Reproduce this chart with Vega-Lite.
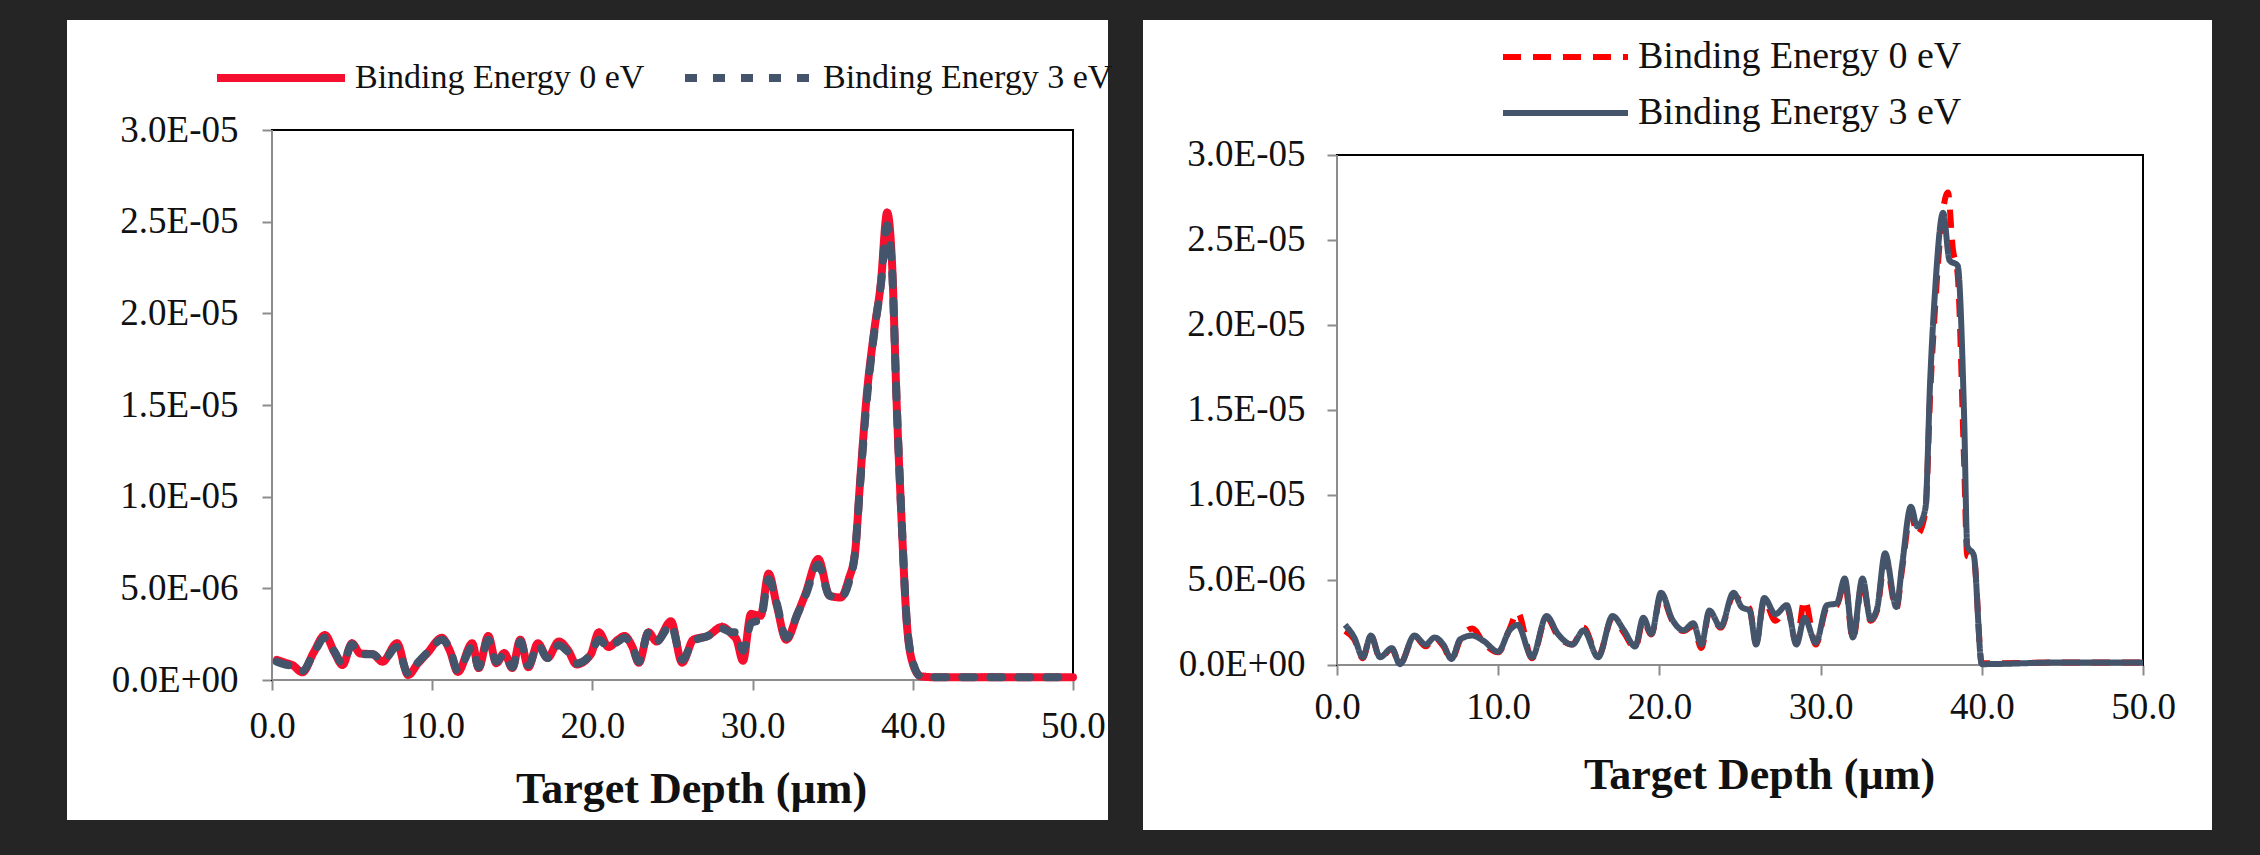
{
  "$schema": "https://vega.github.io/schema/vega-lite/v6.json",
  "background": "#252525",
  "padding": {"left": 67, "top": 20, "right": 48, "bottom": 25},
  "autosize": {"type": "pad"},
  "bounds": "flush",
  "spacing": 35,
  "config": {"font": "Liberation Serif", "view": {"stroke": null}},
  "datasets": {
    "left": [
      {"s":"Binding Energy 0 eV","x":0.3,"y":1.1e-6},{"s":"Binding Energy 0 eV","x":0.8,"y":0.95e-6},{"s":"Binding Energy 0 eV","x":1.3,"y":0.8e-6},{"s":"Binding Energy 0 eV","x":1.9,"y":0.42e-6},{"s":"Binding Energy 0 eV","x":2.6,"y":1.5e-6},{"s":"Binding Energy 0 eV","x":3.3,"y":2.45e-6},{"s":"Binding Energy 0 eV","x":3.9,"y":1.5e-6},{"s":"Binding Energy 0 eV","x":4.4,"y":0.82e-6},{"s":"Binding Energy 0 eV","x":5.0,"y":2.0e-6},{"s":"Binding Energy 0 eV","x":5.5,"y":1.45e-6},{"s":"Binding Energy 0 eV","x":6.3,"y":1.4e-6},{"s":"Binding Energy 0 eV","x":6.9,"y":1.0e-6},{"s":"Binding Energy 0 eV","x":7.8,"y":2.0e-6},{"s":"Binding Energy 0 eV","x":8.5,"y":0.27e-6},{"s":"Binding Energy 0 eV","x":9.1,"y":0.9e-6},{"s":"Binding Energy 0 eV","x":9.7,"y":1.47e-6},{"s":"Binding Energy 0 eV","x":10.6,"y":2.3e-6},{"s":"Binding Energy 0 eV","x":11.1,"y":1.6e-6},{"s":"Binding Energy 0 eV","x":11.6,"y":0.44e-6},{"s":"Binding Energy 0 eV","x":12.5,"y":2.0e-6},{"s":"Binding Energy 0 eV","x":12.9,"y":0.65e-6},{"s":"Binding Energy 0 eV","x":13.5,"y":2.4e-6},{"s":"Binding Energy 0 eV","x":14.0,"y":0.92e-6},{"s":"Binding Energy 0 eV","x":14.5,"y":1.47e-6},{"s":"Binding Energy 0 eV","x":15.0,"y":0.65e-6},{"s":"Binding Energy 0 eV","x":15.5,"y":2.2e-6},{"s":"Binding Energy 0 eV","x":16.0,"y":0.7e-6},{"s":"Binding Energy 0 eV","x":16.6,"y":2.0e-6},{"s":"Binding Energy 0 eV","x":17.2,"y":1.2e-6},{"s":"Binding Energy 0 eV","x":17.9,"y":2.1e-6},{"s":"Binding Energy 0 eV","x":18.5,"y":1.6e-6},{"s":"Binding Energy 0 eV","x":19.0,"y":0.85e-6},{"s":"Binding Energy 0 eV","x":19.9,"y":1.4e-6},{"s":"Binding Energy 0 eV","x":20.4,"y":2.6e-6},{"s":"Binding Energy 0 eV","x":21.0,"y":1.8e-6},{"s":"Binding Energy 0 eV","x":21.6,"y":2.2e-6},{"s":"Binding Energy 0 eV","x":22.0,"y":2.4e-6},{"s":"Binding Energy 0 eV","x":22.5,"y":1.8e-6},{"s":"Binding Energy 0 eV","x":22.9,"y":0.94e-6},{"s":"Binding Energy 0 eV","x":23.5,"y":2.6e-6},{"s":"Binding Energy 0 eV","x":24.0,"y":2.1e-6},{"s":"Binding Energy 0 eV","x":24.9,"y":3.2e-6},{"s":"Binding Energy 0 eV","x":25.6,"y":0.95e-6},{"s":"Binding Energy 0 eV","x":26.3,"y":2.2e-6},{"s":"Binding Energy 0 eV","x":27.2,"y":2.4e-6},{"s":"Binding Energy 0 eV","x":28.1,"y":2.9e-6},{"s":"Binding Energy 0 eV","x":28.7,"y":2.5e-6},{"s":"Binding Energy 0 eV","x":29.0,"y":2.2e-6},{"s":"Binding Energy 0 eV","x":29.4,"y":1.05e-6},{"s":"Binding Energy 0 eV","x":29.9,"y":3.6e-6},{"s":"Binding Energy 0 eV","x":30.5,"y":3.5e-6},{"s":"Binding Energy 0 eV","x":31.0,"y":5.8e-6},{"s":"Binding Energy 0 eV","x":31.5,"y":4.1e-6},{"s":"Binding Energy 0 eV","x":32.1,"y":2.2e-6},{"s":"Binding Energy 0 eV","x":32.8,"y":3.6e-6},{"s":"Binding Energy 0 eV","x":33.3,"y":4.7e-6},{"s":"Binding Energy 0 eV","x":34.1,"y":6.6e-6},{"s":"Binding Energy 0 eV","x":34.8,"y":4.6e-6},{"s":"Binding Energy 0 eV","x":35.5,"y":4.5e-6},{"s":"Binding Energy 0 eV","x":36.0,"y":5.5e-6},{"s":"Binding Energy 0 eV","x":36.4,"y":7.0e-6},{"s":"Binding Energy 0 eV","x":36.7,"y":10.7e-6},{"s":"Binding Energy 0 eV","x":37.1,"y":15.3e-6},{"s":"Binding Energy 0 eV","x":37.6,"y":19.1e-6},{"s":"Binding Energy 0 eV","x":38.0,"y":21.6e-6},{"s":"Binding Energy 0 eV","x":38.4,"y":25.5e-6},{"s":"Binding Energy 0 eV","x":38.7,"y":22.8e-6},{"s":"Binding Energy 0 eV","x":39.0,"y":14.9e-6},{"s":"Binding Energy 0 eV","x":39.3,"y":8.7e-6},{"s":"Binding Energy 0 eV","x":39.6,"y":3.4e-6},{"s":"Binding Energy 0 eV","x":40.0,"y":0.9e-6},{"s":"Binding Energy 0 eV","x":40.5,"y":0.2e-6},{"s":"Binding Energy 0 eV","x":41.4,"y":0.15e-6},{"s":"Binding Energy 0 eV","x":45.0,"y":0.15e-6},{"s":"Binding Energy 0 eV","x":50.0,"y":0.15e-6},
      {"s":"Binding Energy 3 eV","x":0.3,"y":1.0e-6},{"s":"Binding Energy 3 eV","x":0.8,"y":0.85e-6},{"s":"Binding Energy 3 eV","x":1.3,"y":0.75e-6},{"s":"Binding Energy 3 eV","x":1.9,"y":0.5e-6},{"s":"Binding Energy 3 eV","x":2.6,"y":1.45e-6},{"s":"Binding Energy 3 eV","x":3.3,"y":2.3e-6},{"s":"Binding Energy 3 eV","x":3.9,"y":1.55e-6},{"s":"Binding Energy 3 eV","x":4.4,"y":0.9e-6},{"s":"Binding Energy 3 eV","x":5.0,"y":1.95e-6},{"s":"Binding Energy 3 eV","x":5.5,"y":1.4e-6},{"s":"Binding Energy 3 eV","x":6.3,"y":1.4e-6},{"s":"Binding Energy 3 eV","x":6.9,"y":1.05e-6},{"s":"Binding Energy 3 eV","x":7.8,"y":1.8e-6},{"s":"Binding Energy 3 eV","x":8.5,"y":0.35e-6},{"s":"Binding Energy 3 eV","x":9.1,"y":0.95e-6},{"s":"Binding Energy 3 eV","x":9.7,"y":1.5e-6},{"s":"Binding Energy 3 eV","x":10.6,"y":2.2e-6},{"s":"Binding Energy 3 eV","x":11.1,"y":1.7e-6},{"s":"Binding Energy 3 eV","x":11.6,"y":0.5e-6},{"s":"Binding Energy 3 eV","x":12.5,"y":1.8e-6},{"s":"Binding Energy 3 eV","x":12.9,"y":0.7e-6},{"s":"Binding Energy 3 eV","x":13.5,"y":2.2e-6},{"s":"Binding Energy 3 eV","x":14.0,"y":1.0e-6},{"s":"Binding Energy 3 eV","x":14.5,"y":1.4e-6},{"s":"Binding Energy 3 eV","x":15.0,"y":0.7e-6},{"s":"Binding Energy 3 eV","x":15.5,"y":2.1e-6},{"s":"Binding Energy 3 eV","x":16.0,"y":0.8e-6},{"s":"Binding Energy 3 eV","x":16.6,"y":1.9e-6},{"s":"Binding Energy 3 eV","x":17.2,"y":1.2e-6},{"s":"Binding Energy 3 eV","x":17.9,"y":1.9e-6},{"s":"Binding Energy 3 eV","x":18.5,"y":1.5e-6},{"s":"Binding Energy 3 eV","x":19.0,"y":0.9e-6},{"s":"Binding Energy 3 eV","x":19.9,"y":1.4e-6},{"s":"Binding Energy 3 eV","x":20.4,"y":2.2e-6},{"s":"Binding Energy 3 eV","x":21.0,"y":1.8e-6},{"s":"Binding Energy 3 eV","x":21.6,"y":2.1e-6},{"s":"Binding Energy 3 eV","x":22.0,"y":2.3e-6},{"s":"Binding Energy 3 eV","x":22.5,"y":1.8e-6},{"s":"Binding Energy 3 eV","x":22.9,"y":1.0e-6},{"s":"Binding Energy 3 eV","x":23.5,"y":2.6e-6},{"s":"Binding Energy 3 eV","x":24.0,"y":2.1e-6},{"s":"Binding Energy 3 eV","x":24.9,"y":3.0e-6},{"s":"Binding Energy 3 eV","x":25.6,"y":1.1e-6},{"s":"Binding Energy 3 eV","x":26.3,"y":2.1e-6},{"s":"Binding Energy 3 eV","x":27.2,"y":2.4e-6},{"s":"Binding Energy 3 eV","x":28.1,"y":2.8e-6},{"s":"Binding Energy 3 eV","x":28.7,"y":2.6e-6},{"s":"Binding Energy 3 eV","x":29.0,"y":2.6e-6},{"s":"Binding Energy 3 eV","x":29.4,"y":1.6e-6},{"s":"Binding Energy 3 eV","x":29.9,"y":3.1e-6},{"s":"Binding Energy 3 eV","x":30.5,"y":3.3e-6},{"s":"Binding Energy 3 eV","x":31.0,"y":5.5e-6},{"s":"Binding Energy 3 eV","x":31.5,"y":4.2e-6},{"s":"Binding Energy 3 eV","x":32.1,"y":2.3e-6},{"s":"Binding Energy 3 eV","x":32.8,"y":3.6e-6},{"s":"Binding Energy 3 eV","x":33.3,"y":4.6e-6},{"s":"Binding Energy 3 eV","x":34.1,"y":6.3e-6},{"s":"Binding Energy 3 eV","x":34.8,"y":4.6e-6},{"s":"Binding Energy 3 eV","x":35.5,"y":4.5e-6},{"s":"Binding Energy 3 eV","x":36.0,"y":5.3e-6},{"s":"Binding Energy 3 eV","x":36.4,"y":7.0e-6},{"s":"Binding Energy 3 eV","x":36.7,"y":10.5e-6},{"s":"Binding Energy 3 eV","x":37.1,"y":15.0e-6},{"s":"Binding Energy 3 eV","x":37.6,"y":19.0e-6},{"s":"Binding Energy 3 eV","x":38.0,"y":21.5e-6},{"s":"Binding Energy 3 eV","x":38.4,"y":24.8e-6},{"s":"Binding Energy 3 eV","x":38.7,"y":22.5e-6},{"s":"Binding Energy 3 eV","x":39.0,"y":15.0e-6},{"s":"Binding Energy 3 eV","x":39.3,"y":8.8e-6},{"s":"Binding Energy 3 eV","x":39.6,"y":3.5e-6},{"s":"Binding Energy 3 eV","x":40.0,"y":1.0e-6},{"s":"Binding Energy 3 eV","x":40.5,"y":0.2e-6},{"s":"Binding Energy 3 eV","x":41.4,"y":0.15e-6},{"s":"Binding Energy 3 eV","x":45.0,"y":0.15e-6},{"s":"Binding Energy 3 eV","x":50.0,"y":0.15e-6}
    ],
    "right": [
      {"s":"Binding Energy 0 eV","x":0.5,"y":2.0e-6},{"s":"Binding Energy 0 eV","x":1.07,"y":1.5e-6},{"s":"Binding Energy 0 eV","x":1.6,"y":0.4e-6},{"s":"Binding Energy 0 eV","x":2.1,"y":1.75e-6},{"s":"Binding Energy 0 eV","x":2.67,"y":0.4e-6},{"s":"Binding Energy 0 eV","x":3.4,"y":0.95e-6},{"s":"Binding Energy 0 eV","x":3.9,"y":0.05e-6},{"s":"Binding Energy 0 eV","x":4.8,"y":1.7e-6},{"s":"Binding Energy 0 eV","x":5.5,"y":1.1e-6},{"s":"Binding Energy 0 eV","x":6.05,"y":1.6e-6},{"s":"Binding Energy 0 eV","x":6.6,"y":1.1e-6},{"s":"Binding Energy 0 eV","x":7.1,"y":0.3e-6},{"s":"Binding Energy 0 eV","x":7.65,"y":1.5e-6},{"s":"Binding Energy 0 eV","x":8.4,"y":2.15e-6},{"s":"Binding Energy 0 eV","x":9.1,"y":1.3e-6},{"s":"Binding Energy 0 eV","x":10.0,"y":0.75e-6},{"s":"Binding Energy 0 eV","x":10.7,"y":2.1e-6},{"s":"Binding Energy 0 eV","x":11.2,"y":3.1e-6},{"s":"Binding Energy 0 eV","x":12.1,"y":0.4e-6},{"s":"Binding Energy 0 eV","x":13.0,"y":2.8e-6},{"s":"Binding Energy 0 eV","x":13.7,"y":1.7e-6},{"s":"Binding Energy 0 eV","x":14.6,"y":1.2e-6},{"s":"Binding Energy 0 eV","x":15.3,"y":2.2e-6},{"s":"Binding Energy 0 eV","x":16.2,"y":0.5e-6},{"s":"Binding Energy 0 eV","x":17.1,"y":2.8e-6},{"s":"Binding Energy 0 eV","x":17.8,"y":1.9e-6},{"s":"Binding Energy 0 eV","x":18.5,"y":1.0e-6},{"s":"Binding Energy 0 eV","x":19.0,"y":2.6e-6},{"s":"Binding Energy 0 eV","x":19.5,"y":1.8e-6},{"s":"Binding Energy 0 eV","x":20.1,"y":4.1e-6},{"s":"Binding Energy 0 eV","x":20.8,"y":2.6e-6},{"s":"Binding Energy 0 eV","x":21.5,"y":2.0e-6},{"s":"Binding Energy 0 eV","x":22.1,"y":2.3e-6},{"s":"Binding Energy 0 eV","x":22.6,"y":1.0e-6},{"s":"Binding Energy 0 eV","x":23.1,"y":3.1e-6},{"s":"Binding Energy 0 eV","x":23.8,"y":2.2e-6},{"s":"Binding Energy 0 eV","x":24.6,"y":4.1e-6},{"s":"Binding Energy 0 eV","x":25.1,"y":3.7e-6},{"s":"Binding Energy 0 eV","x":25.6,"y":3.3e-6},{"s":"Binding Energy 0 eV","x":26.0,"y":1.3e-6},{"s":"Binding Energy 0 eV","x":26.5,"y":3.8e-6},{"s":"Binding Energy 0 eV","x":27.2,"y":2.6e-6},{"s":"Binding Energy 0 eV","x":27.9,"y":3.4e-6},{"s":"Binding Energy 0 eV","x":28.5,"y":1.3e-6},{"s":"Binding Energy 0 eV","x":29.0,"y":3.83e-6},{"s":"Binding Energy 0 eV","x":29.7,"y":1.2e-6},{"s":"Binding Energy 0 eV","x":30.4,"y":3.4e-6},{"s":"Binding Energy 0 eV","x":31.0,"y":3.5e-6},{"s":"Binding Energy 0 eV","x":31.5,"y":4.9e-6},{"s":"Binding Energy 0 eV","x":32.0,"y":1.5e-6},{"s":"Binding Energy 0 eV","x":32.6,"y":4.9e-6},{"s":"Binding Energy 0 eV","x":33.1,"y":2.6e-6},{"s":"Binding Energy 0 eV","x":33.5,"y":3.2e-6},{"s":"Binding Energy 0 eV","x":34.0,"y":6.2e-6},{"s":"Binding Energy 0 eV","x":34.7,"y":3.3e-6},{"s":"Binding Energy 0 eV","x":35.05,"y":5.6e-6},{"s":"Binding Energy 0 eV","x":35.6,"y":8.9e-6},{"s":"Binding Energy 0 eV","x":36.0,"y":7.7e-6},{"s":"Binding Energy 0 eV","x":36.5,"y":9.0e-6},{"s":"Binding Energy 0 eV","x":36.8,"y":16.0e-6},{"s":"Binding Energy 0 eV","x":37.1,"y":21.0e-6},{"s":"Binding Energy 0 eV","x":37.5,"y":26.0e-6},{"s":"Binding Energy 0 eV","x":37.9,"y":27.8e-6},{"s":"Binding Energy 0 eV","x":38.2,"y":24.5e-6},{"s":"Binding Energy 0 eV","x":38.5,"y":23.0e-6},{"s":"Binding Energy 0 eV","x":38.9,"y":12.0e-6},{"s":"Binding Energy 0 eV","x":39.1,"y":6.4e-6},{"s":"Binding Energy 0 eV","x":39.5,"y":6.3e-6},{"s":"Binding Energy 0 eV","x":40.0,"y":0.1e-6},{"s":"Binding Energy 0 eV","x":45.0,"y":0.15e-6},{"s":"Binding Energy 0 eV","x":50.0,"y":0.15e-6},
      {"s":"Binding Energy 3 eV","x":0.5,"y":2.36e-6},{"s":"Binding Energy 3 eV","x":1.07,"y":1.62e-6},{"s":"Binding Energy 3 eV","x":1.6,"y":0.46e-6},{"s":"Binding Energy 3 eV","x":2.1,"y":1.73e-6},{"s":"Binding Energy 3 eV","x":2.67,"y":0.46e-6},{"s":"Binding Energy 3 eV","x":3.4,"y":0.99e-6},{"s":"Binding Energy 3 eV","x":3.9,"y":0.05e-6},{"s":"Binding Energy 3 eV","x":4.8,"y":1.73e-6},{"s":"Binding Energy 3 eV","x":5.5,"y":1.2e-6},{"s":"Binding Energy 3 eV","x":6.05,"y":1.62e-6},{"s":"Binding Energy 3 eV","x":6.6,"y":1.2e-6},{"s":"Binding Energy 3 eV","x":7.1,"y":0.36e-6},{"s":"Binding Energy 3 eV","x":7.65,"y":1.52e-6},{"s":"Binding Energy 3 eV","x":8.4,"y":1.73e-6},{"s":"Binding Energy 3 eV","x":9.1,"y":1.41e-6},{"s":"Binding Energy 3 eV","x":10.0,"y":0.78e-6},{"s":"Binding Energy 3 eV","x":10.7,"y":2.04e-6},{"s":"Binding Energy 3 eV","x":11.2,"y":2.36e-6},{"s":"Binding Energy 3 eV","x":12.1,"y":0.46e-6},{"s":"Binding Energy 3 eV","x":13.0,"y":2.88e-6},{"s":"Binding Energy 3 eV","x":13.7,"y":1.83e-6},{"s":"Binding Energy 3 eV","x":14.6,"y":1.2e-6},{"s":"Binding Energy 3 eV","x":15.3,"y":2.04e-6},{"s":"Binding Energy 3 eV","x":16.2,"y":0.46e-6},{"s":"Binding Energy 3 eV","x":17.1,"y":2.88e-6},{"s":"Binding Energy 3 eV","x":17.8,"y":2.04e-6},{"s":"Binding Energy 3 eV","x":18.5,"y":1.09e-6},{"s":"Binding Energy 3 eV","x":19.0,"y":2.78e-6},{"s":"Binding Energy 3 eV","x":19.5,"y":1.83e-6},{"s":"Binding Energy 3 eV","x":20.1,"y":4.25e-6},{"s":"Binding Energy 3 eV","x":20.8,"y":2.67e-6},{"s":"Binding Energy 3 eV","x":21.5,"y":2.04e-6},{"s":"Binding Energy 3 eV","x":22.1,"y":2.46e-6},{"s":"Binding Energy 3 eV","x":22.6,"y":1.2e-6},{"s":"Binding Energy 3 eV","x":23.1,"y":3.2e-6},{"s":"Binding Energy 3 eV","x":23.8,"y":2.25e-6},{"s":"Binding Energy 3 eV","x":24.6,"y":4.25e-6},{"s":"Binding Energy 3 eV","x":25.1,"y":3.41e-6},{"s":"Binding Energy 3 eV","x":25.6,"y":3.2e-6},{"s":"Binding Energy 3 eV","x":26.0,"y":1.2e-6},{"s":"Binding Energy 3 eV","x":26.5,"y":3.94e-6},{"s":"Binding Energy 3 eV","x":27.2,"y":2.99e-6},{"s":"Binding Energy 3 eV","x":27.9,"y":3.52e-6},{"s":"Binding Energy 3 eV","x":28.5,"y":1.2e-6},{"s":"Binding Energy 3 eV","x":29.0,"y":2.78e-6},{"s":"Binding Energy 3 eV","x":29.7,"y":1.31e-6},{"s":"Binding Energy 3 eV","x":30.4,"y":3.52e-6},{"s":"Binding Energy 3 eV","x":31.0,"y":3.62e-6},{"s":"Binding Energy 3 eV","x":31.5,"y":5.09e-6},{"s":"Binding Energy 3 eV","x":32.0,"y":1.62e-6},{"s":"Binding Energy 3 eV","x":32.6,"y":5.09e-6},{"s":"Binding Energy 3 eV","x":33.1,"y":2.67e-6},{"s":"Binding Energy 3 eV","x":33.5,"y":3.31e-6},{"s":"Binding Energy 3 eV","x":34.0,"y":6.57e-6},{"s":"Binding Energy 3 eV","x":34.7,"y":3.41e-6},{"s":"Binding Energy 3 eV","x":35.05,"y":5.83e-6},{"s":"Binding Energy 3 eV","x":35.6,"y":9.31e-6},{"s":"Binding Energy 3 eV","x":36.0,"y":8.15e-6},{"s":"Binding Energy 3 eV","x":36.5,"y":9.2e-6},{"s":"Binding Energy 3 eV","x":36.8,"y":16.8e-6},{"s":"Binding Energy 3 eV","x":37.1,"y":22.0e-6},{"s":"Binding Energy 3 eV","x":37.6,"y":26.6e-6},{"s":"Binding Energy 3 eV","x":38.0,"y":23.8e-6},{"s":"Binding Energy 3 eV","x":38.5,"y":23.5e-6},{"s":"Binding Energy 3 eV","x":38.9,"y":14.7e-6},{"s":"Binding Energy 3 eV","x":39.1,"y":7.0e-6},{"s":"Binding Energy 3 eV","x":39.5,"y":6.46e-6},{"s":"Binding Energy 3 eV","x":40.0,"y":0.05e-6},{"s":"Binding Energy 3 eV","x":45.0,"y":0.15e-6},{"s":"Binding Energy 3 eV","x":50.0,"y":0.15e-6}
    ]
  },
  "hconcat": [
    {
      "width": 1041,
      "height": 800,
      "view": {"fill": "white", "stroke": null},
      "layer": [
        {
          "data": {"values": [{}]},
          "mark": {"type": "rect", "fill": null, "stroke": "black", "strokeWidth": 2},
          "encoding": {
            "x": {"datum": 0, "type": "quantitative", "scale": {"domain": [-12.797, 52.185], "nice": false, "zero": false}},
            "x2": {"datum": 50},
            "y": {"datum": 0, "type": "quantitative", "scale": {"domain": [-7.636e-6, 3.6e-5], "nice": false, "zero": false}},
            "y2": {"datum": 3e-5}
          }
        },
        {
          "data": {"values": [{}]},
          "mark": {"type": "rule", "color": "#8c8c8c", "strokeWidth": 2},
          "encoding": {
            "x": {"datum": 0, "type": "quantitative"},
            "y": {"datum": 0, "type": "quantitative"},
            "y2": {"datum": 3e-5}
          }
        },
        {
          "data": {"values": [{}]},
          "mark": {"type": "rule", "color": "#8c8c8c", "strokeWidth": 2},
          "encoding": {
            "x": {"datum": 0, "type": "quantitative"},
            "x2": {"datum": 50},
            "y": {"datum": 0, "type": "quantitative"}
          }
        },
        {
          "data": {"name": "left"},
          "mark": {"type": "line", "interpolate": "monotone", "strokeCap": "round", "strokeJoin": "round", "strokeWidth": 8},
          "encoding": {
            "x": {"field": "x", "type": "quantitative",
              "axis": {"values": [0, 10, 20, 30, 40, 50], "format": ".1f", "offset": -140, "domain": false, "grid": false,
                "tickSize": 10, "tickColor": "#8c8c8c", "tickWidth": 2, "labelFont": "Liberation Serif", "labelFontSize": 37,
                "labelColor": "#111111", "labelPadding": 18, "labelFlush": false, "labelOverlap": false,
                "title": "Target Depth (µm)", "titleFont": "Liberation Serif", "titleFontSize": 44, "titleFontWeight": "bold",
                "titleColor": "#111111", "titleX": 624, "titleY": 122, "titleBaseline": "alphabetic", "titleAlign": "center"}},
            "y": {"field": "y", "type": "quantitative",
              "axis": {"values": [0, 5e-6, 1e-5, 1.5e-5, 2e-5, 2.5e-5, 3e-5],
                "labelExpr": "replace(replace(format(datum.value, '.1e'), 'e-', 'E-0'), 'e+', 'E+0')",
                "offset": -205, "domain": false, "grid": false, "tickSize": 10, "tickColor": "#8c8c8c", "tickWidth": 2,
                "labelFont": "Liberation Serif", "labelFontSize": 37, "labelColor": "#111111", "labelPadding": 24,
                "labelFlush": false, "labelOverlap": false, "title": null}},
            "color": {"field": "s", "type": "nominal",
              "scale": {"domain": ["Binding Energy 0 eV", "Binding Energy 3 eV"], "range": ["#F5102F", "#44546A"]},
              "legend": {"orient": "none", "legendX": 146, "legendY": 38, "direction": "horizontal", "title": null,
                "symbolType": "stroke", "symbolSize": 16384, "symbolStrokeWidth": 8, "clipHeight": 40, "labelFont": "Liberation Serif",
                "labelFontSize": 34, "labelColor": "#111111", "labelOffset": 6, "labelLimit": 0, "columnPadding": 36}},
            "strokeDash": {"field": "s", "type": "nominal",
              "scale": {"domain": ["Binding Energy 0 eV", "Binding Energy 3 eV"], "range": [[1, 0], [12, 16]]},
              "legend": {"orient": "none", "legendX": 146, "legendY": 38, "direction": "horizontal", "title": null,
                "symbolType": "stroke", "symbolSize": 16384, "symbolStrokeWidth": 8, "clipHeight": 40, "labelFont": "Liberation Serif",
                "labelFontSize": 34, "labelColor": "#111111", "labelOffset": 6, "labelLimit": 0, "columnPadding": 36}}
          }
        }
      ]
    },
    {
      "width": 1069,
      "height": 810,
      "view": {"fill": "white", "stroke": null},
      "layer": [
        {
          "data": {"values": [{}]},
          "mark": {"type": "rect", "fill": null, "stroke": "black", "strokeWidth": 2},
          "encoding": {
            "x": {"datum": 0, "type": "quantitative", "scale": {"domain": [-12.035, 54.28], "nice": false, "zero": false}},
            "x2": {"datum": 50},
            "y": {"datum": 0, "type": "quantitative", "scale": {"domain": [-9.706e-6, 3.7941e-5], "nice": false, "zero": false}},
            "y2": {"datum": 3e-5}
          }
        },
        {
          "data": {"values": [{}]},
          "mark": {"type": "rule", "color": "#8c8c8c", "strokeWidth": 2},
          "encoding": {
            "x": {"datum": 0, "type": "quantitative"},
            "y": {"datum": 0, "type": "quantitative"},
            "y2": {"datum": 3e-5}
          }
        },
        {
          "data": {"values": [{}]},
          "mark": {"type": "rule", "color": "#8c8c8c", "strokeWidth": 2},
          "encoding": {
            "x": {"datum": 0, "type": "quantitative"},
            "x2": {"datum": 50},
            "y": {"datum": 0, "type": "quantitative"}
          }
        },
        {
          "data": {"name": "right"},
          "mark": {"type": "line", "interpolate": "monotone", "strokeJoin": "round", "strokeWidth": 6},
          "encoding": {
            "x": {"field": "x", "type": "quantitative",
              "axis": {"values": [0, 10, 20, 30, 40, 50], "format": ".1f", "offset": -165, "domain": false, "grid": false,
                "tickSize": 10, "tickColor": "#8c8c8c", "tickWidth": 2, "labelFont": "Liberation Serif", "labelFontSize": 37,
                "labelColor": "#111111", "labelPadding": 14, "labelFlush": false, "labelOverlap": false,
                "title": "Target Depth (µm)", "titleFont": "Liberation Serif", "titleFontSize": 44, "titleFontWeight": "bold",
                "titleColor": "#111111", "titleX": 616, "titleY": 123, "titleBaseline": "alphabetic", "titleAlign": "center"}},
            "y": {"field": "y", "type": "quantitative",
              "axis": {"values": [0, 5e-6, 1e-5, 1.5e-5, 2e-5, 2.5e-5, 3e-5],
                "labelExpr": "replace(replace(format(datum.value, '.1e'), 'e-', 'E-0'), 'e+', 'E+0')",
                "offset": -194, "domain": false, "grid": false, "tickSize": 10, "tickColor": "#8c8c8c", "tickWidth": 2,
                "labelFont": "Liberation Serif", "labelFontSize": 37, "labelColor": "#111111", "labelPadding": 22,
                "labelFlush": false, "labelOverlap": false, "title": null}},
            "color": {"field": "s", "type": "nominal",
              "scale": {"domain": ["Binding Energy 0 eV", "Binding Energy 3 eV"], "range": ["#FF0000", "#44546A"]},
              "legend": {"orient": "none", "legendX": 357, "legendY": 15, "direction": "vertical", "title": null,
                "symbolType": "stroke", "symbolSize": 15625, "symbolStrokeWidth": 6, "clipHeight": 44, "labelFont": "Liberation Serif",
                "labelFontSize": 38, "labelColor": "#111111", "labelOffset": 7, "labelLimit": 0, "rowPadding": 12}},
            "strokeDash": {"field": "s", "type": "nominal",
              "scale": {"domain": ["Binding Energy 0 eV", "Binding Energy 3 eV"], "range": [[18, 12], [1, 0]]},
              "legend": {"orient": "none", "legendX": 357, "legendY": 15, "direction": "vertical", "title": null,
                "symbolType": "stroke", "symbolSize": 15625, "symbolStrokeWidth": 6, "clipHeight": 44, "labelFont": "Liberation Serif",
                "labelFontSize": 38, "labelColor": "#111111", "labelOffset": 7, "labelLimit": 0, "rowPadding": 12}}
          }
        }
      ]
    }
  ],
  "resolve": {
    "scale": {"x": "independent", "y": "independent", "color": "independent", "strokeDash": "independent"},
    "legend": {"color": "independent", "strokeDash": "independent"}
  }
}
